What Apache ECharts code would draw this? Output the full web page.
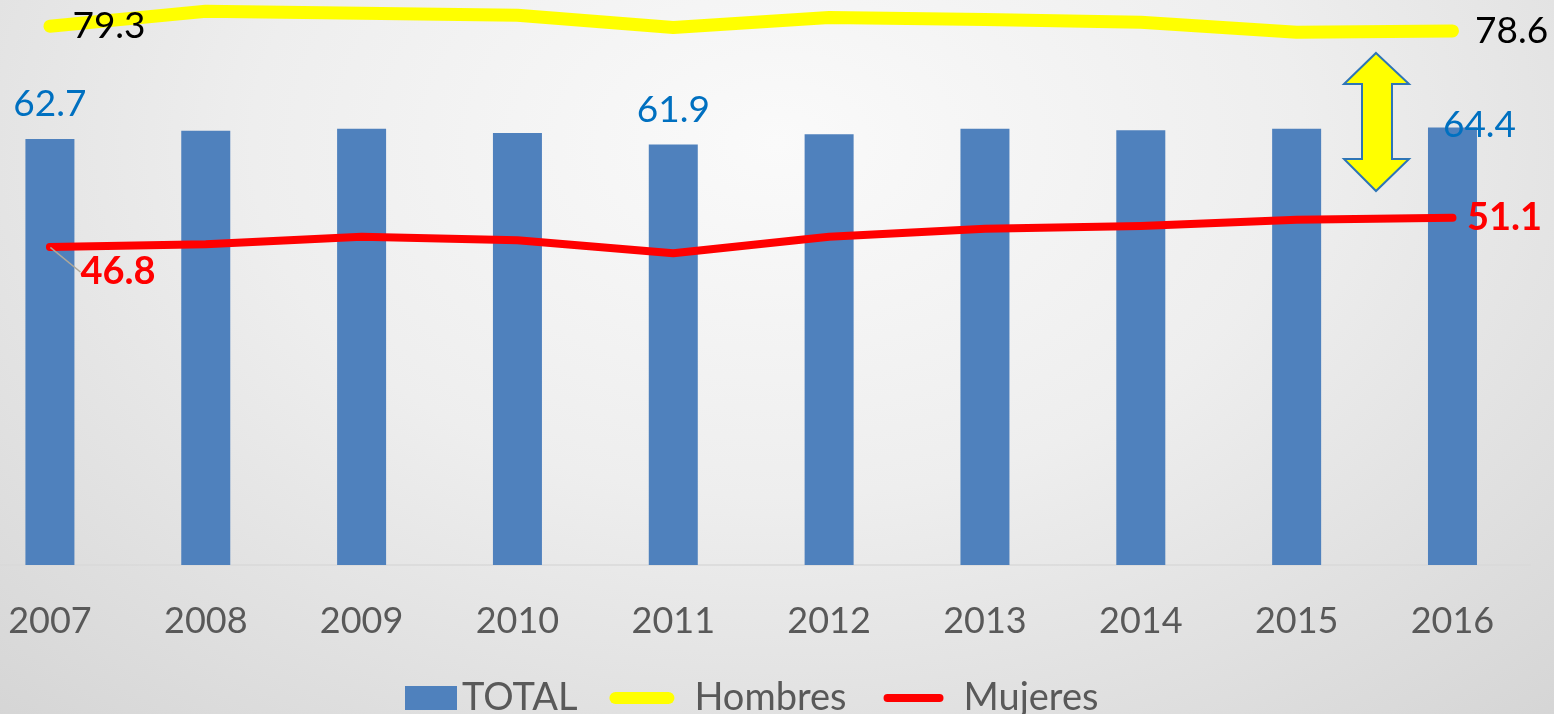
<!DOCTYPE html>
<html>
<head>
<meta charset="utf-8">
<script src="https://cdn.jsdelivr.net/npm/echarts@6/dist/echarts.min.js"></script>
<style>
  html, body { margin: 0; padding: 0; overflow: hidden; }
  #wrap { position: relative; width: 1554px; height: 714px; overflow: hidden;
    background: radial-gradient(ellipse 75% 110% at 50% 20%, #fafafa 0%, #eeeeee 45%, #d5d5d5 100%); }
  #chart { position: absolute; left: -28px; top: 0; width: 1582px; height: 714px; }
</style>
</head>
<body>
<div id="wrap"><div id="chart"></div></div>
<script>
const years = ['2007','2008','2009','2010','2011','2012','2013','2014','2015','2016'];
const total = [62.7, 63.9, 64.2, 63.6, 61.9, 63.4, 64.2, 64.0, 64.2, 64.4];
const hombres = [79.3, 81.5, 81.2, 80.9, 79.1, 80.6, 80.3, 79.9, 78.4, 78.6];
const mujeres = [46.8, 47.2, 48.3, 47.8, 45.9, 48.3, 49.5, 49.9, 50.8, 51.1];
const totalLabeled = [0, 4, 9];

const FONT = 'Lato';
const SHIFT = 28; // chart canvas starts 28px left of the page
const chart = echarts.init(document.getElementById('chart'), null, { renderer: 'canvas' });

const fmt = (p) => Number(p.value).toFixed(1);

const totalData = total.map((v, i) => {
  if (!totalLabeled.includes(i)) return v;
  const lab = { show: true, position: 'top', distance: 16, color: '#0070C0', fontSize: 37, fontFamily: FONT, formatter: fmt };
  if (i === 9) { lab.offset = [27, 32]; }
  return { value: v, label: lab };
});

const hombresData = hombres.map((v, i) => {
  if (i !== 0 && i !== 9) return v;
  return { value: v, label: { show: true, position: 'right', distance: 22, color: '#000000', fontSize: 37, fontFamily: FONT, formatter: fmt } };
});

const mujeresData = mujeres.map((v, i) => {
  if (i === 9) return { value: v, label: { show: true, position: 'right', distance: 14, color: '#FF0000', fontSize: 38, fontWeight: 'bold', fontFamily: FONT, formatter: fmt } };
  if (i === 0) return { value: v,
    label: { show: true, position: 'right', distance: 4, color: '#FF0000', fontSize: 38, fontWeight: 'bold', fontFamily: FONT, formatter: fmt },
    labelLine: { show: true, smooth: false, lineStyle: { color: '#b0a898', width: 1.5 } } };
  return v;
});

const option = {
  backgroundColor: 'transparent',
  animation: false,
  grid: { left: 0, right: 23.6, top: 0, bottom: 149, containLabel: false },
  xAxis: {
    type: 'category', data: years,
    axisLine: { show: true, lineStyle: { color: '#d9d9d9', width: 1.5 } },
    axisTick: { show: false },
    axisLabel: { color: '#595959', fontSize: 36, fontFamily: FONT, margin: 38 },
    splitLine: { show: false }
  },
  yAxis: { type: 'value', min: 0, max: 83.16, show: false, splitLine: { show: false } },
  legend: {
    top: 674, left: 367 + SHIFT, itemWidth: 85, itemHeight: 30, itemGap: 27,
    textStyle: { color: '#595959', fontSize: 38, fontFamily: FONT },
    itemStyle: { borderWidth: 0 },
    data: [
      { name: 'TOTAL', icon: 'path://M0,0 M85,30 M33,3 L85,3 L85,27 L33,27 Z', textStyle: { width: 111 } },
      { name: 'Hombres', icon: 'path://M0,0 M85,30 M11,9 L64,9 A6,6 0 0 1 64,21 L11,21 A6,6 0 0 1 11,9 Z', textStyle: { width: 158 } },
      { name: 'Mujeres', icon: 'path://M0,0 M85,30 M14,11 L66,11 A4,4 0 0 1 66,19 L14,19 A4,4 0 0 1 14,11 Z', textStyle: { width: 142 } }
    ]
  },
  series: [
    { name: 'TOTAL', type: 'bar', data: totalData, barWidth: 49,
      itemStyle: { color: '#4F81BD' }, z: 2 },
    { name: 'Hombres', type: 'line', data: hombresData, symbol: 'circle', symbolSize: 1, showSymbol: true,
      lineStyle: { color: '#FFFF00', width: 13, cap: 'round', join: 'round' },
      itemStyle: { color: '#FFFF00' }, z: 3 },
    { name: 'Mujeres', type: 'line', data: mujeresData, symbol: 'circle', symbolSize: 1, showSymbol: true,
      lineStyle: { color: '#FF0000', width: 8, cap: 'round', join: 'round' },
      itemStyle: { color: '#FF0000' }, z: 4,
      labelLayout: (p) => (p.dataIndex === 0 ? { dx: 26, dy: 25 } : {}) }
  ],
  graphic: [
    { type: 'polygon', z: 10, x: SHIFT,
      shape: { points: [[1376,53],[1409,84],[1392,84],[1392,159],[1409,159],[1376,191],[1344,159],[1362,159],[1362,84],[1344,84]] },
      style: { fill: '#FFFF00', stroke: '#2E75B6', lineWidth: 2 } }
  ]
};
chart.setOption(option);
</script>
</body>
</html>
